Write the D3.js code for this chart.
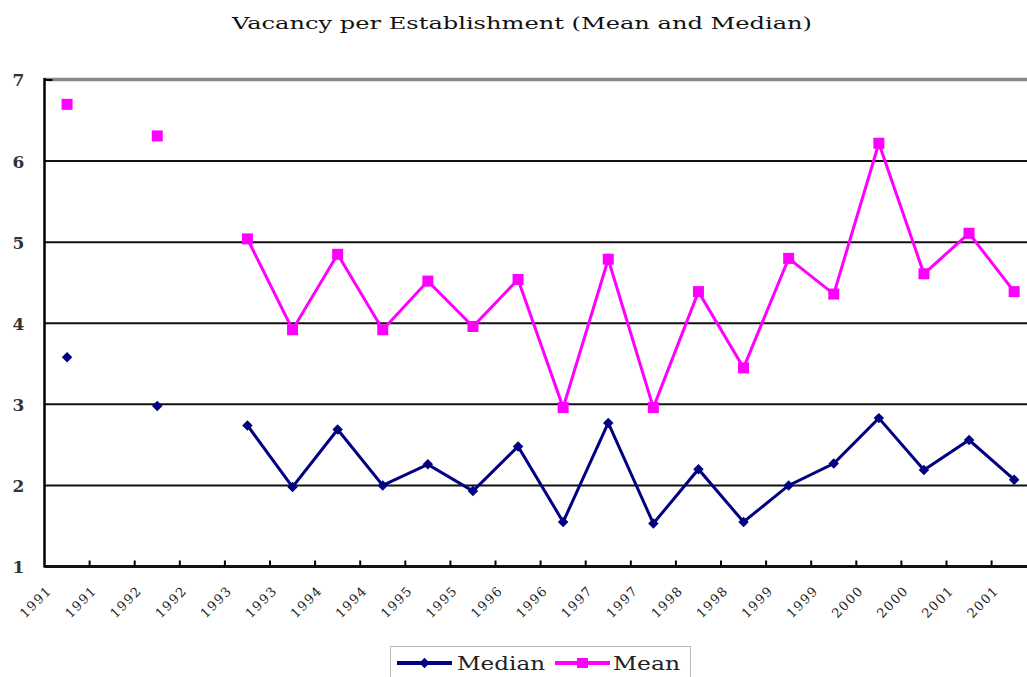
<!DOCTYPE html>
<html>
<head>
<meta charset="utf-8">
<script src="https://cdn.jsdelivr.net/npm/d3@7"></script>
<style>
  html, body { margin: 0; padding: 0; background: #fff; }
  svg { display: block; }
</style>
</head>
<body>
<svg id="chart" width="1027" height="677"></svg>
<script>
const title = "Vacancy per Establishment (Mean and Median)";
const categories = ["1991","1991","1992","1992","1993","1993","1994","1994","1995","1995","1996","1996",
                    "1997","1997","1998","1998","1999","1999","2000","2000","2001","2001"];
const medianValues = [3.58,null,2.98,null,2.74,1.98,2.69,2.00,2.26,1.93,2.48,1.55,
                      2.77,1.53,2.20,1.55,2.00,2.27,2.83,2.19,2.56,2.07];
const meanValues = [6.70,null,6.31,null,5.04,3.92,4.85,3.92,4.52,3.96,4.54,2.96,
                    4.79,2.96,4.39,3.45,4.80,4.36,6.22,4.61,5.11,4.39];
const yTicks = [1,2,3,4,5,6,7];
const seriesNames = ["Median","Mean"];

const svg = d3.select("#chart");
const plotLeft = 44.5, plotTop = 80, plotBottom = 566.5;
const step = 45.1;
const idx = d3.range(categories.length);

const x = d3.scaleBand().domain(idx).range([plotLeft, plotLeft + step * categories.length]).padding(0);
const y = d3.scaleLinear().domain([1, 7]).range([plotBottom, plotTop]);
const cx = i => x(i) + x.bandwidth() / 2;

// title
svg.append("text")
  .attr("x", 232).attr("y", 29)
  .attr("textLength", 580).attr("lengthAdjust", "spacingAndGlyphs")
  .style("font-family", "'DejaVu Serif', serif").style("font-size", "17px")
  .attr("fill", "#111")
  .text(title);

// gridlines
svg.append("g").selectAll("line")
  .data(yTicks.filter(t => t > 1 && t < 7))
  .join("line")
  .attr("x1", plotLeft).attr("x2", 1027)
  .attr("y1", d => y(d)).attr("y2", d => y(d))
  .attr("stroke", "#111").attr("stroke-width", 2);

// top border
svg.append("line")
  .attr("x1", plotLeft).attr("x2", 1027)
  .attr("y1", y(7) - 0.5).attr("y2", y(7) - 0.5)
  .attr("stroke", "#888").attr("stroke-width", 3.5);

// y axis
const yAxis = d3.axisLeft(y).tickValues(yTicks).tickFormat(d3.format("d")).tickSize(0).tickPadding(0);
const yg = svg.append("g").attr("transform", `translate(${plotLeft},0)`).call(yAxis);
yg.select(".domain").remove();
yg.selectAll("text")
  .attr("x", -26).attr("dy", "0.35em")
  .attr("text-anchor", "middle")
  .style("font-family", "'DejaVu Serif', serif").style("font-size", "17px")
  .style("font-weight", "bold").attr("fill", "#333");
svg.append("line")
  .attr("x1", plotLeft).attr("x2", plotLeft)
  .attr("y1", plotTop - 2).attr("y2", plotBottom + 1)
  .attr("stroke", "#000").attr("stroke-width", 2.5);
svg.append("line")
  .attr("x1", plotLeft).attr("x2", plotLeft + 8)
  .attr("y1", plotTop).attr("y2", plotTop)
  .attr("stroke", "#000").attr("stroke-width", 2);

// x axis
const xg = svg.append("g");
xg.append("line").attr("x1", plotLeft).attr("x2", 1027).attr("y1", plotBottom).attr("y2", plotBottom)
  .attr("stroke", "#111").attr("stroke-width", 3);
xg.append("g").selectAll("line")
  .data(idx.slice(1))
  .join("line")
  .attr("x1", d => x(d)).attr("x2", d => x(d))
  .attr("y1", plotBottom).attr("y2", plotBottom - 6)
  .attr("stroke", "#000").attr("stroke-width", 2);
const labelG = xg.append("g").selectAll("g")
  .data(idx)
  .join("g")
  .attr("transform", d => `translate(${x(d) + 7},${plotBottom + 26}) rotate(-45)`);
labelG.append("text")
  .attr("text-anchor", "end")
  .attr("textLength", 37).attr("lengthAdjust", "spacing")
  .style("font-family", "'DejaVu Serif', serif").style("font-size", "13px")
  .attr("fill", "#222")
  .text(d => categories[d]);

// lines
const line = d3.line()
  .defined(d => d != null)
  .x((d, i) => cx(i))
  .y(d => y(d));

const medianColor = "#000080", meanColor = "#ff00ff";

svg.append("path").datum(meanValues)
  .attr("d", line).attr("fill", "none")
  .attr("stroke", meanColor).attr("stroke-width", 3);
svg.append("path").datum(medianValues)
  .attr("d", line).attr("fill", "none")
  .attr("stroke", medianColor).attr("stroke-width", 3);

const meanPts = idx.filter(i => meanValues[i] != null);
const medPts = idx.filter(i => medianValues[i] != null);

svg.append("g").selectAll("rect")
  .data(meanPts).join("rect")
  .attr("x", i => cx(i) - 5.5).attr("y", i => y(meanValues[i]) - 5.5)
  .attr("width", 11).attr("height", 11)
  .attr("fill", meanColor);

const diamond = d3.symbol().type(d3.symbolDiamond2).size(70);
svg.append("g").selectAll("path")
  .data(medPts).join("path")
  .attr("d", diamond)
  .attr("transform", i => `translate(${cx(i)},${y(medianValues[i])})`)
  .attr("fill", medianColor);

// legend
const lg = svg.append("g");
lg.append("rect").attr("x", 390.5).attr("y", 646.5).attr("width", 300).attr("height", 40)
  .attr("fill", "#fff").attr("stroke", "#bbb").attr("stroke-width", 1);
const legendItems = [
  { name: seriesNames[0], color: medianColor, x0: 397, tx: 457, tw: 88, marker: "diamond" },
  { name: seriesNames[1], color: meanColor, x0: 555, tx: 613, tw: 67, marker: "square" }
];
legendItems.forEach(it => {
  lg.append("line").attr("x1", it.x0).attr("x2", it.x0 + 55)
    .attr("y1", 663).attr("y2", 663)
    .attr("stroke", it.color).attr("stroke-width", 4);
  if (it.marker === "diamond") {
    lg.append("path").attr("d", diamond).attr("transform", `translate(${it.x0 + 27.5},663)`).attr("fill", it.color);
  } else {
    lg.append("rect").attr("x", it.x0 + 22).attr("y", 658).attr("width", 11).attr("height", 10).attr("fill", it.color);
  }
  lg.append("text").attr("x", it.tx).attr("y", 670)
    .attr("textLength", it.tw).attr("lengthAdjust", "spacingAndGlyphs")
    .style("font-family", "'DejaVu Serif', serif").style("font-size", "19px")
    .attr("fill", "#222")
    .text(it.name);
});
</script>
</body>
</html>
